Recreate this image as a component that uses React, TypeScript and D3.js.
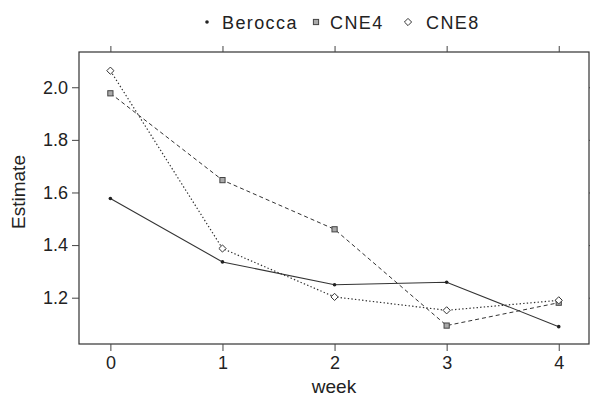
import React, { useEffect, useRef } from 'react';
import * as d3 from 'd3';

const weeks = [0, 1, 2, 3, 4];
const berocca = [1.577, 1.336, 1.249, 1.259, 1.09];
const cne4 = [1.977, 1.647, 1.46, 1.094, 1.181];
const cne8 = [2.063, 1.387, 1.203, 1.152, 1.19];
const yTicks = [1.2, 1.4, 1.6, 1.8, 2.0];
const seriesNames = ['Berocca', 'CNE4', 'CNE8'];

const W = 590;
const H = 397;
const box = { left: 79, right: 589, top: 52, bottom: 344 };
const ink = '#222';
const font = '"Liberation Sans", Arial, Helvetica, sans-serif';

const App: React.FC = () => {
  const svgRef = useRef<SVGSVGElement>(null);

  useEffect(() => {
    const svg = d3.select(svgRef.current);
    svg.selectAll('*').remove();

    const x = d3.scaleLinear().domain([-0.28, 4.27]).range([box.left, box.right]);
    const y = d3.scaleLinear().domain([1.024, 2.134]).range([box.bottom, box.top]);

    // frame
    svg.append('rect')
      .attr('x', box.left).attr('y', box.top)
      .attr('width', box.right - box.left).attr('height', box.bottom - box.top)
      .attr('fill', 'none').attr('stroke', '#333').attr('stroke-width', 1.2);

    // axes (outer ticks on all sides, labels on left/bottom)
    const bottom = svg.append('g').attr('transform', `translate(0,${box.bottom})`)
      .call(d3.axisBottom(x).tickValues(weeks).tickFormat(d3.format('d')).tickSize(7).tickPadding(5));
    const top = svg.append('g').attr('transform', `translate(0,${box.top})`)
      .call(d3.axisTop(x).tickValues(weeks).tickFormat(() => '').tickSize(6));
    const left = svg.append('g').attr('transform', `translate(${box.left},0)`)
      .call(d3.axisLeft(y).tickValues(yTicks).tickFormat(d3.format('.1f')).tickSize(7).tickPadding(4));
    const right = svg.append('g').attr('transform', `translate(${box.right},0)`)
      .call(d3.axisRight(y).tickValues(yTicks).tickFormat(() => '').tickSize(6));

    [bottom, top, left, right].forEach(a => {
      a.select('.domain').remove();
      a.selectAll('.tick line').attr('stroke', '#444').attr('stroke-width', 1);
      a.selectAll('text').attr('fill', ink).attr('font-size', 18).attr('font-family', font);
    });

    // axis labels
    svg.append('text')
      .attr('x', (box.left + box.right) / 2).attr('y', 393)
      .attr('text-anchor', 'middle').attr('fill', ink)
      .attr('font-size', 19).attr('font-family', font)
      .text('week');
    svg.append('text')
      .attr('transform', `translate(25,${(box.top + box.bottom) / 2 - 6}) rotate(-90)`)
      .attr('text-anchor', 'middle').attr('fill', ink)
      .attr('font-size', 19).attr('font-family', font)
      .text('Estimate');

    const line = d3.line<number>()
      .x((_, i) => x(weeks[i]))
      .y(d => y(d));

    const styles = [
      { vals: berocca, dash: null, width: 1.1 },
      { vals: cne4, dash: '4,3', width: 1 },
      { vals: cne8, dash: '1.4,2.2', width: 1.2 },
    ];

    styles.forEach(s => {
      svg.append('path')
        .datum(s.vals)
        .attr('fill', 'none')
        .attr('stroke', '#333')
        .attr('stroke-width', s.width)
        .attr('stroke-dasharray', s.dash)
        .attr('d', line);
    });

    const drawDot = (g: any, cx: number, cy: number) =>
      g.append('circle').attr('cx', cx).attr('cy', cy).attr('r', 1.8).attr('fill', '#222');
    const drawSquare = (g: any, cx: number, cy: number) =>
      g.append('rect').attr('x', cx - 2.6).attr('y', cy - 2.6).attr('width', 5.2).attr('height', 5.2)
        .attr('fill', '#aaa').attr('stroke', '#444').attr('stroke-width', 1);
    const drawDiamond = (g: any, cx: number, cy: number) =>
      g.append('path').attr('d', `M${cx},${cy - 3.6}L${cx + 3.6},${cy}L${cx},${cy + 3.6}L${cx - 3.6},${cy}Z`)
        .attr('fill', 'white').attr('stroke', '#333').attr('stroke-width', 1);

    const pts = svg.append('g');
    berocca.forEach((v, i) => drawDot(pts, x(weeks[i]), y(v)));
    cne4.forEach((v, i) => drawSquare(pts, x(weeks[i]), y(v)));
    cne8.forEach((v, i) => drawDiamond(pts, x(weeks[i]), y(v)));

    // legend
    const lg = svg.append('g');
    const legendItems = [
      { sym: drawDot, sx: 207, tx: 222 },
      { sym: drawSquare, sx: 316, tx: 330 },
      { sym: drawDiamond, sx: 408, tx: 426 },
    ];
    legendItems.forEach((it, i) => {
      it.sym(lg, it.sx, 22);
      lg.append('text')
        .attr('x', it.tx).attr('y', 28.5)
        .attr('fill', ink).attr('font-size', 18).attr('font-family', font)
        .attr('letter-spacing', 1.4)
        .text(seriesNames[i]);
    });
  }, []);

  return (
    <svg ref={svgRef} width={W} height={H}
      style={{ position: 'absolute', left: 0, top: 0, background: 'white' }} />
  );
};

export default App;
